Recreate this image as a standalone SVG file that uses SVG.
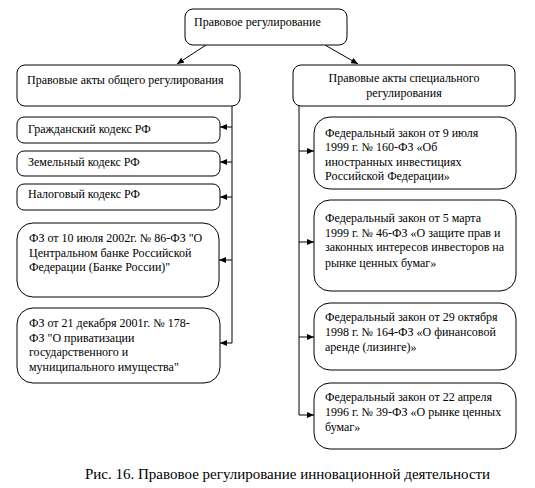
<svg xmlns="http://www.w3.org/2000/svg" width="535" height="488" viewBox="0 0 535 488">
<style>
.box{fill:#fff;stroke:#000;stroke-width:1}
text{font-family:"Times New Roman","Liberation Serif",Tinos,"Noto Serif","DejaVu Serif",FreeSerif,serif;font-size:12px;fill:#000}
.cap{font-size:15px}
.ln{stroke:#000;stroke-width:1;fill:none}
</style>
<defs>
<marker id="ah" markerWidth="7" markerHeight="6" refX="7" refY="3" orient="auto" markerUnits="userSpaceOnUse">
<path d="M0,0 L7,3 L0,6 Z" fill="#000"/>
</marker>
</defs>
<rect width="535" height="488" fill="#fff"/>
<g id="connectors">
<line class="ln" x1="206" y1="45" x2="177" y2="64" marker-end="url(#ah)"/>
<line class="ln" x1="325" y1="45" x2="358" y2="64" marker-end="url(#ah)"/>
<line class="ln" x1="232" y1="106" x2="232" y2="343"/>
<line class="ln" x1="232" y1="127" x2="220" y2="127" marker-end="url(#ah)"/>
<line class="ln" x1="232" y1="162" x2="220" y2="162" marker-end="url(#ah)"/>
<line class="ln" x1="232" y1="197" x2="220" y2="197" marker-end="url(#ah)"/>
<line class="ln" x1="232" y1="260" x2="219" y2="260" marker-end="url(#ah)"/>
<line class="ln" x1="232" y1="343" x2="220" y2="343" marker-end="url(#ah)"/>
<line class="ln" x1="299" y1="106" x2="299" y2="415"/>
<line class="ln" x1="299" y1="151" x2="314" y2="151" marker-end="url(#ah)"/>
<line class="ln" x1="299" y1="242" x2="314" y2="242" marker-end="url(#ah)"/>
<line class="ln" x1="299" y1="337" x2="314" y2="337" marker-end="url(#ah)"/>
<line class="ln" x1="299" y1="415" x2="314" y2="415" marker-end="url(#ah)"/>
</g>
<g id="root">
<rect class="box" x="185" y="9" width="162" height="36" rx="8"/>
<text x="194" y="26">Правовое регулирование</text>
</g>
<g id="general">
<rect class="box" x="17" y="65" width="223" height="41" rx="8"/>
<text x="27" y="84">Правовые акты общего регулирования</text>
</g>
<g id="special">
<rect class="box" x="293" y="65" width="222" height="41" rx="8"/>
<text x="404" y="82" text-anchor="middle">Правовые акты специального</text>
<text x="404" y="97" text-anchor="middle">регулирования</text>
</g>
<g id="civil">
<rect class="box" x="17" y="117" width="203" height="26" rx="7"/>
<text x="28" y="133">Гражданский кодекс РФ</text>
</g>
<g id="land">
<rect class="box" x="17" y="151" width="203" height="25" rx="7"/>
<text x="28" y="166">Земельный кодекс РФ</text>
</g>
<g id="tax">
<rect class="box" x="17" y="184" width="203" height="26" rx="7"/>
<text x="28" y="198">Налоговый кодекс РФ</text>
</g>
<g id="fz86">
<rect class="box" x="17" y="223" width="202" height="74" rx="16"/>
<text x="29" y="242">ФЗ от 10 июля 2002г. № 86-ФЗ "О</text>
<text x="29" y="257">Центральном банке Российской</text>
<text x="29" y="271">Федерации (Банке России)"</text>
</g>
<g id="fz178">
<rect class="box" x="17" y="308" width="203" height="75" rx="16"/>
<text x="29" y="327">ФЗ от 21 декабря 2001г. № 178-</text>
<text x="29" y="342">ФЗ "О приватизации</text>
<text x="29" y="356">государственного и</text>
<text x="29" y="371">муниципального имущества"</text>
</g>
<g id="fz160">
<rect class="box" x="314" y="117" width="202" height="72" rx="16"/>
<text x="325" y="137">Федеральный закон от 9 июля</text>
<text x="325" y="151">1999 г. № 160-ФЗ «Об</text>
<text x="325" y="166">иностранных инвестициях</text>
<text x="325" y="180">Российской Федерации»</text>
</g>
<g id="fz46">
<rect class="box" x="314" y="200" width="202" height="91" rx="16"/>
<text x="325" y="222">Федеральный закон от 5 марта</text>
<text x="325" y="237">1999 г. № 46-ФЗ «О защите прав и</text>
<text x="325" y="251">законных интересов инвесторов на</text>
<text x="325" y="267">рынке ценных бумаг»</text>
</g>
<g id="fz164">
<rect class="box" x="314" y="303" width="202" height="67" rx="16"/>
<text x="325" y="321">Федеральный закон от 29 октября</text>
<text x="325" y="336">1998 г. № 164-ФЗ «О финансовой</text>
<text x="325" y="351">аренде (лизинге)»</text>
</g>
<g id="fz39">
<rect class="box" x="314" y="383" width="202" height="66" rx="16"/>
<text x="325" y="401">Федеральный закон от 22 апреля</text>
<text x="325" y="416">1996 г. № 39-ФЗ «О рынке ценных</text>
<text x="325" y="431">бумаг»</text>
</g>
<text class="cap" x="85" y="479">Рис. 16. Правовое регулирование инновационной деятельности</text>
</svg>
